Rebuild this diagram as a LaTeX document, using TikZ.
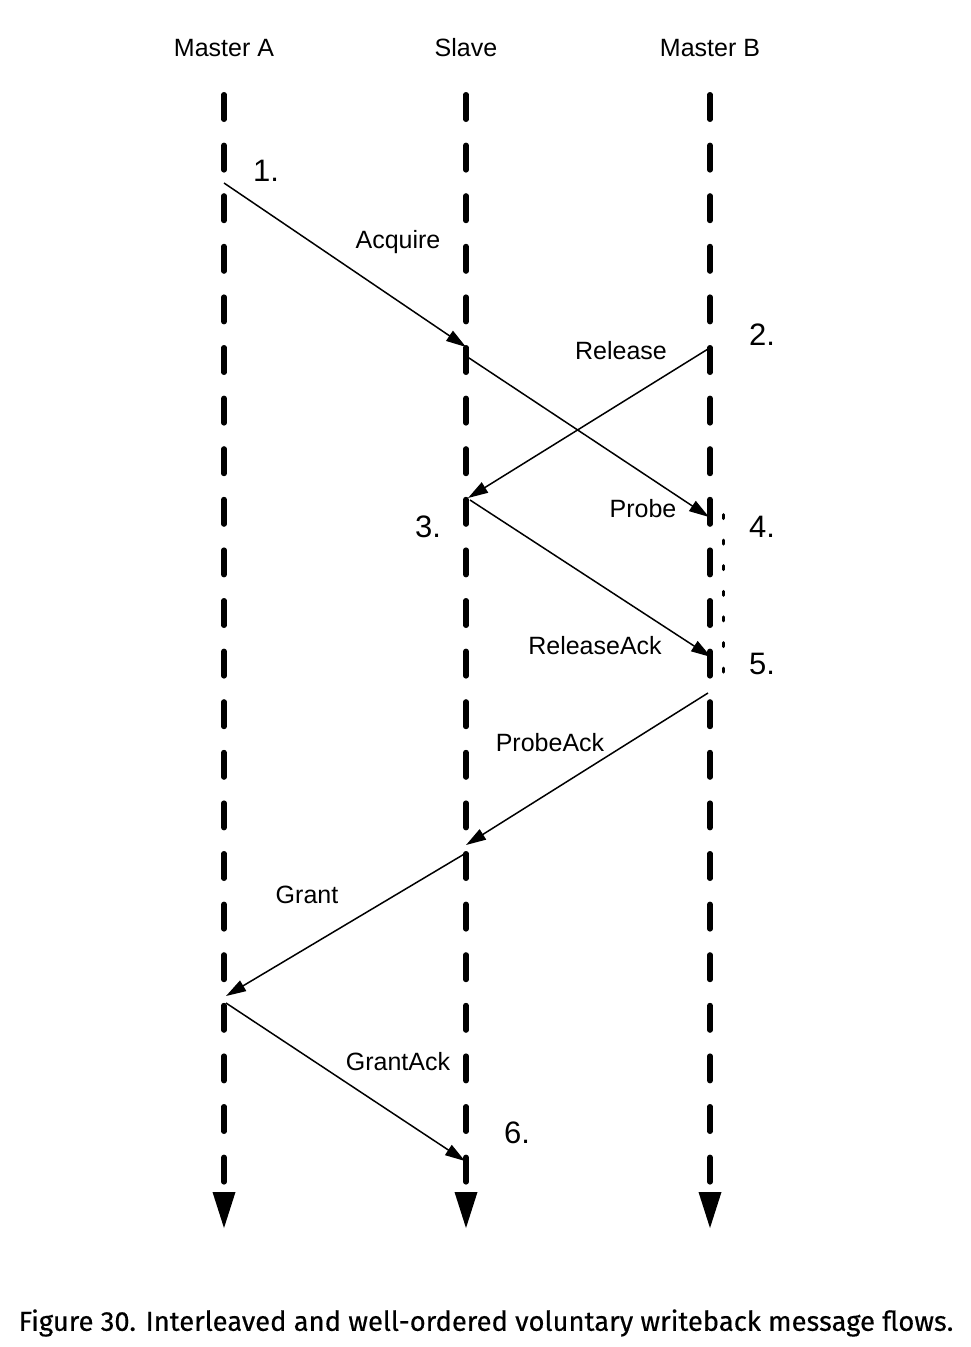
\documentclass[tikz,border=0pt]{standalone}
\usepackage{fontspec}
\setmainfont{Liberation Sans}
\newfontfamily\capfont[FakeBold=0.4]{Fira Sans}
\usetikzlibrary{arrows.meta}

\begin{document}
\begin{tikzpicture}[x=1pt,y=-1pt,
		lifeline/.style={line width=5.4pt,line cap=round,dash pattern=on 24.6pt off 26pt,
			-{Triangle[length=36pt,width=23pt,line width=0pt]}},
		msg/.style={line width=1.5pt,-{Triangle[length=20pt,width=12pt]}},
		lab/.style={font=\fontsize{25}{30}\selectfont},
		num/.style={font=\fontsize{31}{36}\selectfont}]
		\useasboundingbox (0,0) rectangle (970,1347);

		% Agents i linies de vida
		\foreach \n/\x/\t in {A/224/{Master A},S/466/{Slave},B/710/{Master B}} {
			\node[lab] (h\n) at (\x,48) {\t};
			\coordinate (top\n) at (\x,94.7);
			\coordinate (bot\n) at (\x,1228);
			\draw[lifeline] (top\n) -- (bot\n);
		}

		% Espera de Master B entre 4 i 5
		\coordinate (W1) at (723,514.5);
		\coordinate (W2) at (723,673);
		\draw[line width=3pt,line cap=round,dash pattern=on 4pt off 21.6pt] (W1) -- (W2);

		% Missatges
		\coordinate (Acq1) at (224,183);  \coordinate (Acq2) at (466,347);
		\coordinate (Prb1) at (466,356);  \coordinate (Prb2) at (709,517);
		\coordinate (Rel1) at (708,349);  \coordinate (Rel2) at (468,498);
		\coordinate (RAk1) at (470,500);  \coordinate (RAk2) at (711,657);
		\coordinate (PAk1) at (708,693);  \coordinate (PAk2) at (466,845);
		\coordinate (Gnt1) at (466,853);  \coordinate (Gnt2) at (226,996);
		\coordinate (GAk1) at (226,1003); \coordinate (GAk2) at (465,1161);
		\foreach \m in {Acq,Prb,Rel,RAk,PAk,Gnt,GAk} {
			\draw[msg] (\m1) -- (\m2);
		}

		% Etiquetes
		\node[lab] (lAcq) at (398,242) {Acquire};
		\node[lab] (lPrb) at (643,509) {Probe};
		\node[lab] (lRel) at (621,351) {Release};
		\node[lab] (lRAk) at (595,646) {ReleaseAck};
		\node[lab] (lPAk) at (550,743) {ProbeAck};
		\node[lab] (lGnt) at (307,895) {Grant};
		\node[lab] (lGAk) at (398,1062) {GrantAck};

		% Passos
		\foreach \k/\x/\y in {1/266/171,2/762/335,3/428/527,4/762/527,5/762/664,6/517/1133} {
			\node[num] (n\k) at (\x,\y) {\k.};
		}

		% Peu
		\node[font=\capfont\fontsize{27.4}{32}\selectfont] (cap) at (486,1323)
			{Figure 30. Interleaved and well-ordered voluntary writeback message flows.};
	\end{tikzpicture}
\end{document}
